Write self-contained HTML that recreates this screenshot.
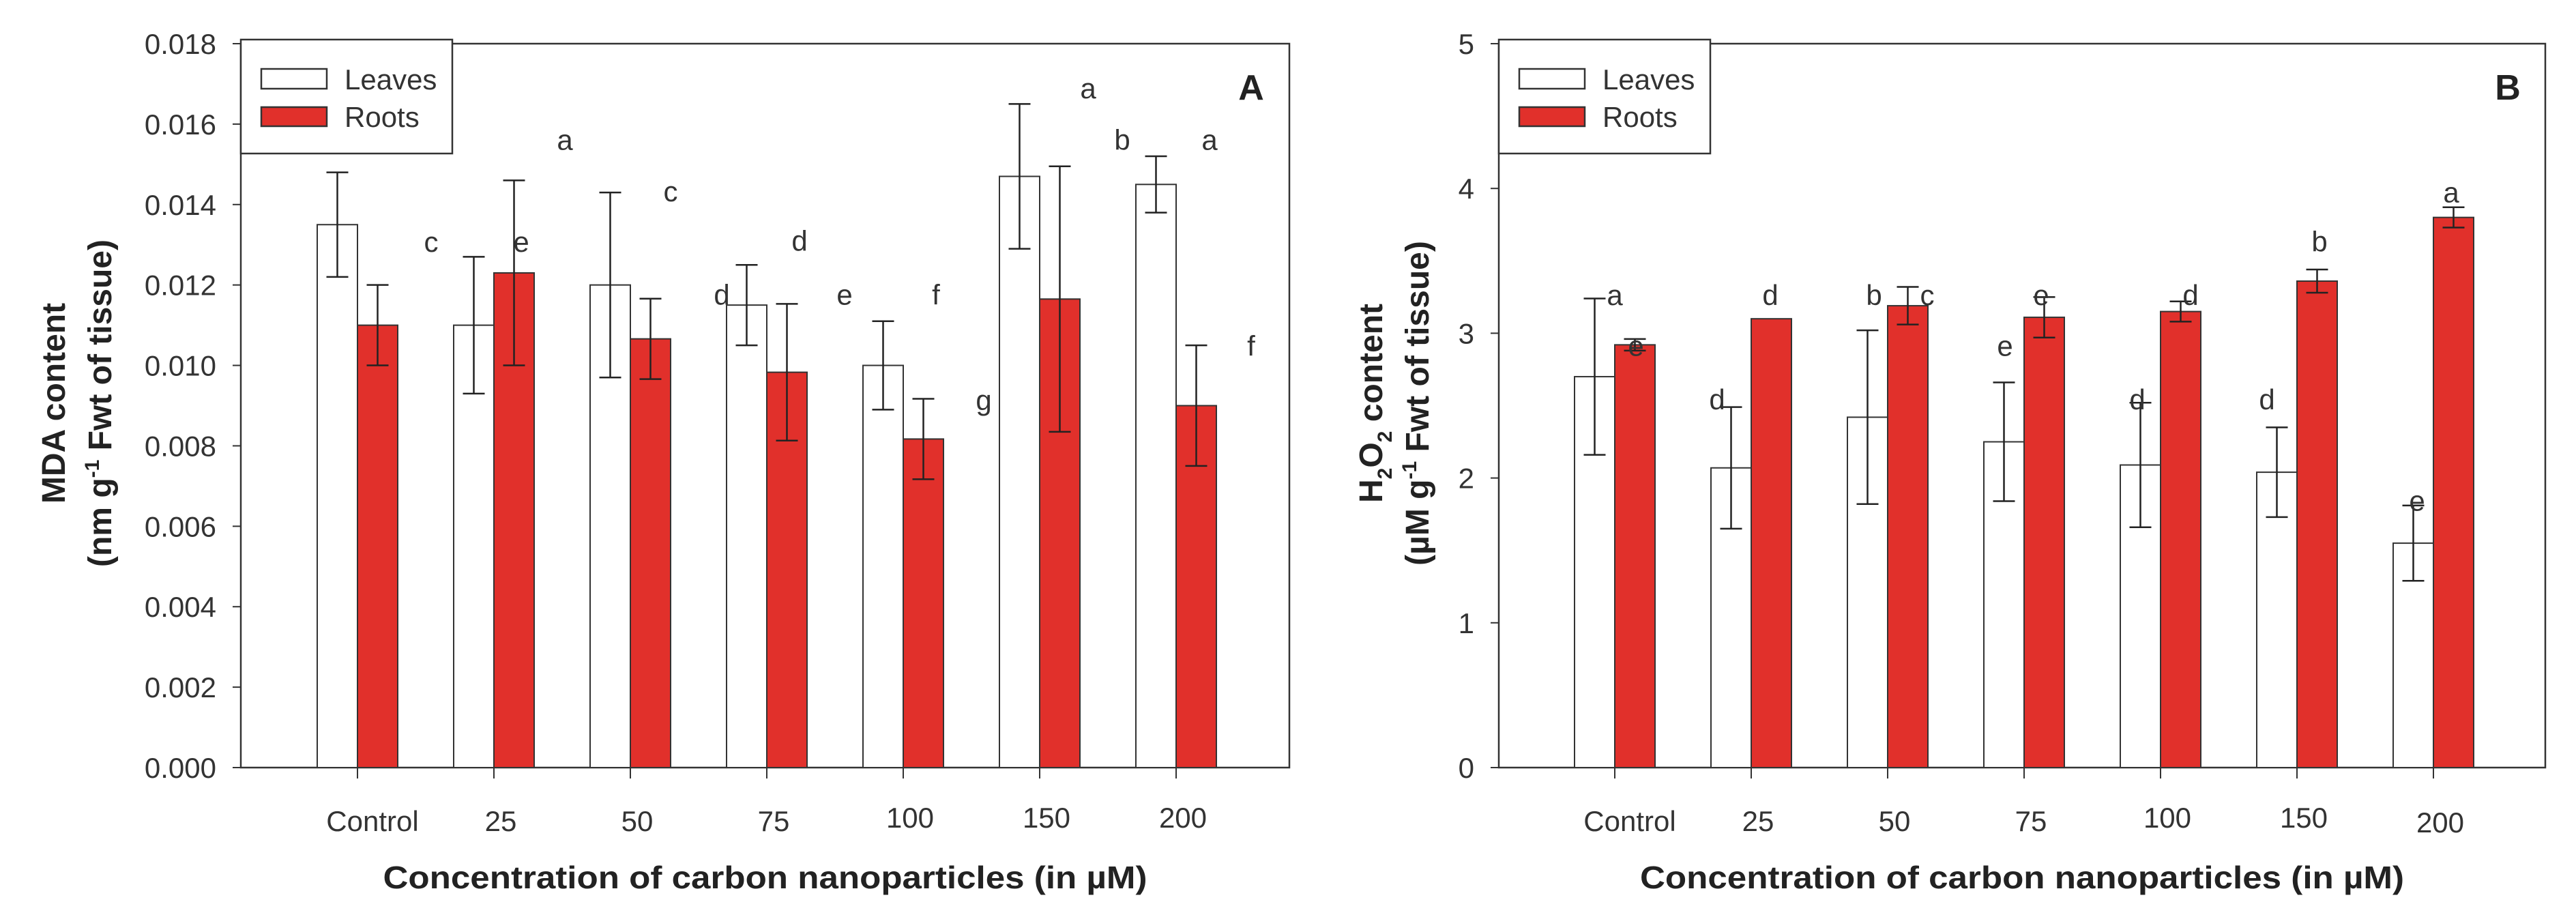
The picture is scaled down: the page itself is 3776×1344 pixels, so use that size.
<!DOCTYPE html>
<html><head><meta charset="utf-8"><style>
html,body{margin:0;padding:0;background:#fff;}
svg{display:block;font-family:"Liberation Sans",Arial,sans-serif;}
</style></head><body>
<svg id="chart" width="3776" height="1344" viewBox="0 0 3776 1344" xmlns="http://www.w3.org/2000/svg"></svg>
<script>
const categories = ["Control","25","50","75","100","150","200"];
// Panel A: MDA
const mdaLeaves = [0.0135,0.0110,0.0120,0.0115,0.0100,0.0147,0.0145];
const mdaLeavesErr = [0.0013,0.0017,0.0023,0.0010,0.0011,0.0018,0.0007];
const mdaRoots = [0.0110,0.0123,0.01066,0.00983,0.00817,0.01165,0.0090];
const mdaRootsErr = [0.0010,0.0023,0.0010,0.0017,0.0010,0.0033,0.0015];
const mdaTicks = ["0.000","0.002","0.004","0.006","0.008","0.010","0.012","0.014","0.016","0.018"];
const mdaLetters = ["b","c","e","a","c","d","d","e","f","g","a","b","a","f"];
const mdaLetterCat = [0,0,1,1,2,3,3,4,4,5,5,6,6,6];
const mdaLetterOff = [0.285,0.54,0.2,0.52,0.295,-0.33,0.24,-0.43,0.24,-0.41,0.355,-0.395,0.245,0.55];
const mdaLetterVal = [0.0156,0.01306,0.01306,0.0156,0.01432,0.01175,0.01309,0.01175,0.01175,0.00913,0.01688,0.0156,0.0156,0.01048];
// Panel B: H2O2
const hLeaves = [2.70,2.07,2.42,2.25,2.09,2.04,1.55];
const hLeavesErr = [0.54,0.42,0.60,0.41,0.43,0.31,0.26];
const hRoots = [2.92,3.10,3.19,3.11,3.15,3.36,3.80];
const hRootsErr = [0.04,0,0.13,0.14,0.07,0.08,0.07];
const hTicks = ["0","1","2","3","4","5"];
const hLetters = ["a","e","d","d","b","c","e","e","d","d","d","b","e","a"];
const hLetterCat = [0,0,1,1,2,2,3,3,4,4,5,5,6,6];
const hLetterOff = [0.0,0.155,0.14,-0.25,-0.1,0.29,-0.14,0.125,-0.17,0.22,-0.22,0.165,-0.12,0.13];
const hLetterVal = [3.26,2.91,3.26,2.54,3.26,3.26,2.91,3.26,2.54,3.26,2.54,3.63,1.84,3.97];

const NS="http://www.w3.org/2000/svg";
const svg=document.getElementById('chart');
function mk(tag,attrs,parent){const e=document.createElementNS(NS,tag);for(const k in attrs)e.setAttribute(k,attrs[k]);(parent||svg).appendChild(e);return e;}
const RED="#e1302b", STROKE="#333";

function panel(cfg){
  const g=mk('g',{});
  
  
  const L=cfg.left,R=cfg.right,T=64,B=1125;
  const ymax=cfg.ymax;
  const y=v=>B-(v/ymax)*(B-T);
  const x0=cfg.x0, step=200;
  const xc=i=>x0+i*step;
  const bw=59;
  const frame=mk('rect',{x:L,y:T,width:R-L,height:B-T,fill:'none',stroke:STROKE,'stroke-width':2.5},g);
  
  
  cfg.ticks.forEach((t,i)=>{
    const v=i*(ymax/(cfg.ticks.length-1));
    const yy=y(v);
    const tk=mk('line',{x1:L-12,x2:L,y1:yy,y2:yy,stroke:STROKE,'stroke-width':2},g);
    
    
    const tl=mk('text',{x:L-36,y:yy+15,'text-anchor':'end','font-size':42,fill:'#333'},g);
    tl.textContent=t;
    
    
  });
  categories.forEach((c,i)=>{
    const cx=xc(i);
    const lv=cfg.leaves[i], rv=cfg.roots[i];
    const lb=mk('rect',{x:cx-bw,y:y(lv),width:bw,height:B-y(lv),fill:'#fff',stroke:STROKE,'stroke-width':2},g);
    
    
    const rb=mk('rect',{x:cx,y:y(rv),width:bw,height:B-y(rv),fill:RED,stroke:STROKE,'stroke-width':2},g);
    
    
    [[cx-bw/2,lv,cfg.leavesErr[i],'leaves'],[cx+bw/2,rv,cfg.rootsErr[i],'roots']].forEach(([ex,v,e,s])=>{
      if(e<=0)return;
      const eg=mk('g',{stroke:'#222','stroke-width':2.5},g);
      
      
      mk('line',{x1:ex,x2:ex,y1:y(v+e),y2:y(v-e)},eg);
      mk('line',{x1:ex-16,x2:ex+16,y1:y(v+e),y2:y(v+e)},eg);
      mk('line',{x1:ex-16,x2:ex+16,y1:y(v-e),y2:y(v-e)},eg);
    });
    const xt=mk('line',{x1:cx,x2:cx,y1:B,y2:B+16,stroke:STROKE,'stroke-width':2},g);
    
    
    const xl=mk('text',{x:cx+(i===0?22:10),y:(cfg.name==='panel-b'&&i===6)?1220:1218-(i>=4?5:0),'text-anchor':'middle','font-size':42,fill:'#333'},g);
    xl.textContent=c;
    
    
  });
  cfg.letters.forEach((s,k)=>{
    const t=mk('text',{x:xc(cfg.letterCat[k])+cfg.letterOff[k]*step,y:y(cfg.letterVal[k])+14,'text-anchor':'middle','font-size':42,fill:'#333'},g);
    t.textContent=s;
    
    
  });
  const lg=mk('g',{},g);
  
  
  mk('rect',{x:L,y:58,width:cfg.legW,height:167,fill:'#fff',stroke:STROKE,'stroke-width':2.5},lg);
  const e1=mk('g',{},lg);
  
  
  mk('rect',{x:L+30,y:101,width:96,height:29,fill:'#fff',stroke:STROKE,'stroke-width':2.5},e1);
  const t1=mk('text',{x:L+152,y:131,'font-size':42,fill:'#333'},e1);t1.textContent='Leaves';
  const e2=mk('g',{},lg);
  
  
  mk('rect',{x:L+30,y:157,width:96,height:28,fill:RED,stroke:STROKE,'stroke-width':2.5},e2);
  const t2=mk('text',{x:L+152,y:186,'font-size':42,fill:'#333'},e2);t2.textContent='Roots';
  const pl=mk('text',{x:cfg.plx,y:146,'font-size':52,'font-weight':'bold','text-anchor':'middle',fill:'#222'},g);
  pl.textContent=cfg.label;
  
  
  const xtl=mk('text',{x:(L+R)/2,y:1302,'font-size':46,'font-weight':'bold','text-anchor':'middle',fill:'#222',textLength:1120,lengthAdjust:'spacingAndGlyphs'},g);
  xtl.textContent='Concentration of carbon nanoparticles (in µM)';
  
  
  return {g,y};
}

const a=panel({name:'panel-a',left:353,right:1890,x0:524,ymax:0.018,ticks:mdaTicks,leaves:mdaLeaves,leavesErr:mdaLeavesErr,roots:mdaRoots,rootsErr:mdaRootsErr,letters:mdaLetters,letterCat:mdaLetterCat,letterOff:mdaLetterOff,letterVal:mdaLetterVal,legW:310,label:'A',plx:1834});
const b=panel({name:'panel-b',left:2197,right:3731,x0:2367,ymax:5,ticks:hTicks,leaves:hLeaves,leavesErr:hLeavesErr,roots:hRoots,rootsErr:hRootsErr,letters:hLetters,letterCat:hLetterCat,letterOff:hLetterOff,letterVal:hLetterVal,legW:310,label:'B',plx:3676});

function ytitle(cx,lines,name){
  const t=mk('text',{transform:`translate(${cx},591) rotate(-90)`,'font-size':48,'font-weight':'bold','text-anchor':'middle',fill:'#222'});
  
  
  lines.forEach((ln,i)=>{
    const ts=mk('tspan',{x:0,y:i*68},t);
    ln.forEach(p=>{const s=mk('tspan',p.a||{},ts);s.textContent=p.t;});
  });
}
ytitle(95,[[{t:'MDA content'}],[{t:'(nm g'},{t:'-1',a:{dy:-18,'font-size':30}},{t:' Fwt of tissue)',a:{dy:18}}]],'y-axis-title-mda');
ytitle(2026,[[{t:'H'},{t:'2',a:{dy:14,'font-size':30}},{t:'O',a:{dy:-14}},{t:'2',a:{dy:14,'font-size':30}},{t:' content',a:{dy:-14}}],[{t:'(µM g'},{t:'-1',a:{dy:-18,'font-size':30}},{t:' Fwt of tissue)',a:{dy:18}}]],'y-axis-title-h2o2');
</script>
</body></html>
